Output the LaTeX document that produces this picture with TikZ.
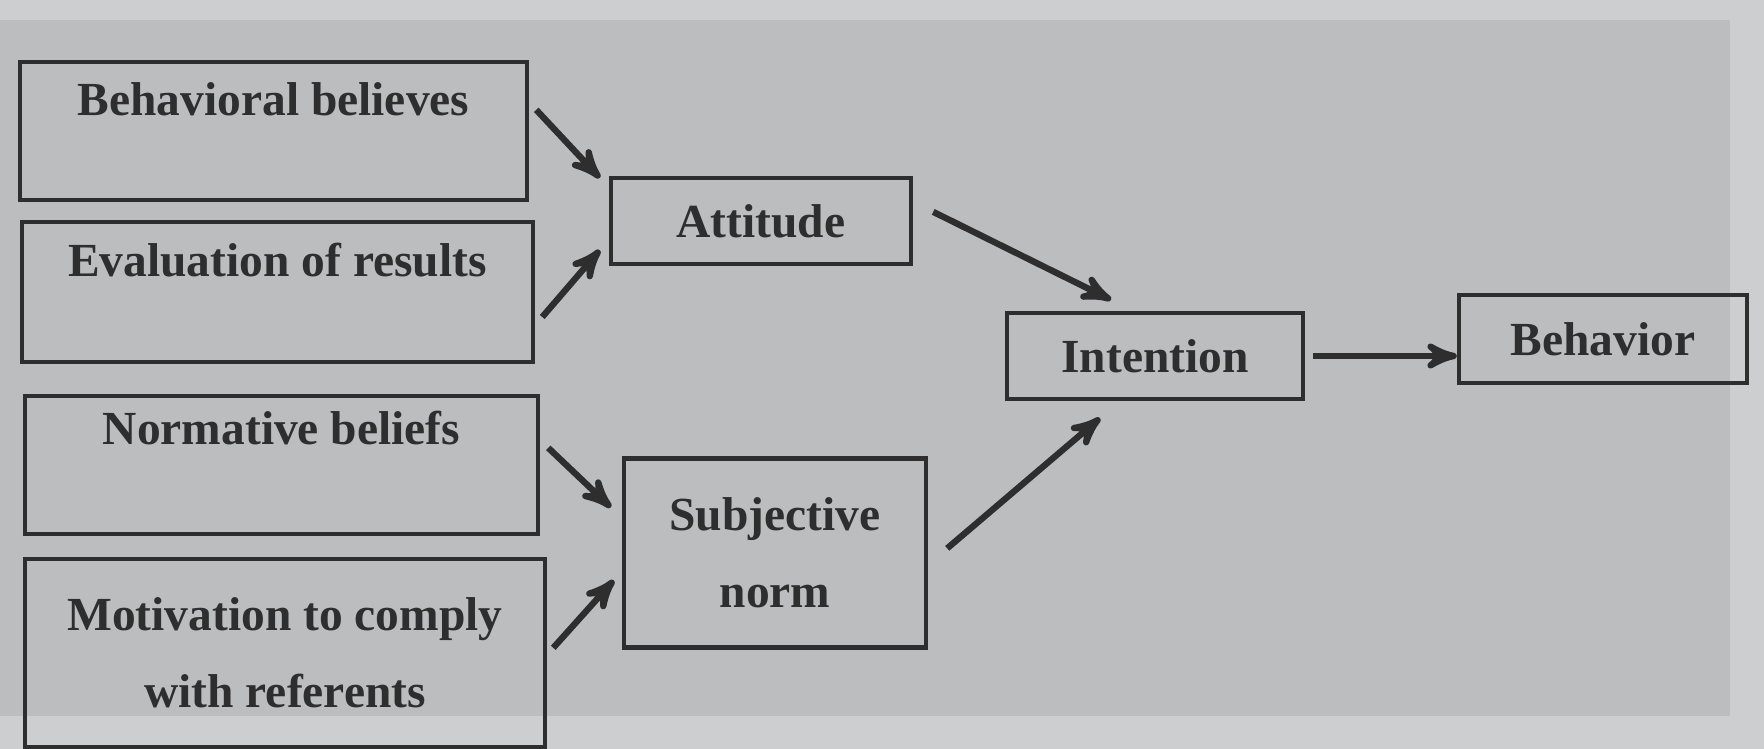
\documentclass[tikz,border=0pt]{standalone}
\usepackage{fontspec}
\setmainfont{Liberation Serif}
\usepackage{xcolor}
\usepackage{tikz}
\usetikzlibrary{arrows,positioning,calc}
\definecolor{paper}{HTML}{CDCECF}
\definecolor{sheet}{HTML}{BCBDBE}
\definecolor{ink}{HTML}{2E2E2E}
\tikzset{
  every picture/.style = {
    >=stealth',
    x = 0.01cm,
    y = -0.01cm
  }
  , % boxes of the model
  factor/.style = {
    rectangle,
    draw = ink,
    line width = 1.2pt,
    text = ink,
    font = \fontsize{13.5}{17}\selectfont\bfseries,
    align = center,
    inner sep = 0pt
  }
  , % arrows between boxes
  link/.style = {
    ->,
    draw = ink,
    line width = 1.8pt
  }
}

\begin{document}
\begin{tikzpicture}
\fill[paper] (0,0) rectangle (1764,749);
\fill[sheet] (0,20) rectangle (1730,716);
\useasboundingbox (0,0) rectangle (1764,749);

\node[factor, minimum width=5.07cm, minimum height=1.38cm] (bb) at (273.5,131) {Behavioral believes\\[-4pt]\strut};
\node[factor, minimum width=5.11cm, minimum height=1.40cm] (eor) at (277.5,292) {Evaluation of results\\[-4pt]\strut};
\node[factor, minimum width=5.13cm, minimum height=1.38cm] (nb) at (281.5,465) {Normative beliefs\\[-1pt]\strut};
\node[factor, minimum width=5.20cm, minimum height=1.88cm] (mc) at (285,653) {Motivation to comply\\[5pt]with referents};
\node[factor, minimum width=3.00cm, minimum height=0.86cm] (att) at (761,221) {Attitude};
\node[factor, minimum width=3.02cm, minimum height=1.89cm] (sn) at (775,553) {Subjective\\[5pt]norm};
\node[factor, minimum width=2.96cm, minimum height=0.86cm] (int) at (1155,356) {Intention};
\node[factor, minimum width=2.88cm, minimum height=0.88cm] (beh) at (1603,339) {Behavior};

\draw[link] ([shift={(7,50)}]bb.north east) -- ([shift={(-9,2)}]att.north west);
\draw[link] ([shift={(7,25)}]eor.east) -- ([shift={(-9,-16)}]att.south west);
\draw[link] ([shift={(8,54)}]nb.north east) -- ([shift={(-11,51)}]sn.north west);
\draw[link] ([shift={(6,91)}]mc.north east) -- ([shift={(-8,124)}]sn.north west);
\draw[link] ([shift={(20,36)}]att.north east) -- ([shift={(-44,-11)}]int.north);
\draw[link] ([shift={(19,92)}]sn.north east) -- ([shift={(-55,17)}]int.south);
\draw[link] ([shift={(8,0)}]int.east) -- (int.east -| beh.west);
\end{tikzpicture}
\end{document}
